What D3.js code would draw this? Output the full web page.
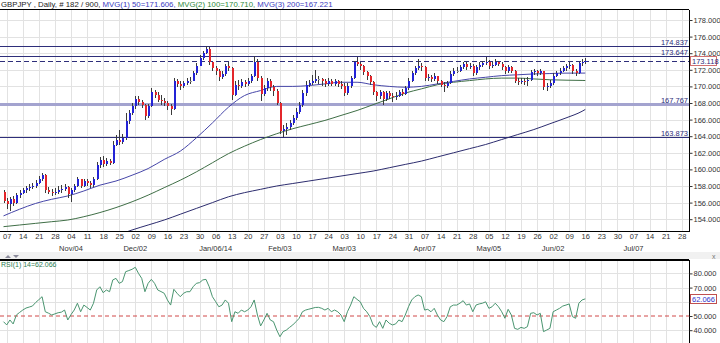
<!DOCTYPE html>
<html>
<head>
<meta charset="utf-8">
<script src="https://cdn.jsdelivr.net/npm/d3@7"></script>
<style>
  body { margin: 0; background: #fff; }
  svg { display: block; font-family: "Liberation Sans", Arial, sans-serif; }
</style>
</head>
<body>
<svg id="chart" width="720" height="343"></svg>
<script>
// ---- GBPJPY daily data (bar 0 = Oct 04 2013, bar 181 = Jun 16 2014) ----
const firstOpen = 157.3;
const closes = [
  156.2,155.8,156.4,156.0,156.9,157.2,157.5,157.7,157.9,158.0,
  158.4,158.8,159.3,157.5,157.3,157.1,157.3,157.5,157.6,157.9,
  157.0,157.5,158.0,158.8,158.0,158.6,158.4,158.1,158.8,160.5,
  161.1,160.6,161.0,160.8,163.0,163.6,163.3,163.8,165.8,166.8,
  167.6,168.5,168.1,167.7,166.4,167.6,169.3,169.0,168.4,168.2,
  168.0,167.6,167.3,170.6,170.3,170.0,170.4,170.7,170.7,171.6,
  172.5,173.4,174.0,174.5,172.9,172.2,171.9,171.1,171.5,172.4,
  172.2,169.0,170.2,170.0,170.5,170.3,170.6,171.2,172.9,171.0,
  169.1,169.8,170.6,169.9,169.5,168.0,164.6,164.9,165.1,165.6,
  166.2,166.9,167.7,169.2,170.2,170.4,170.7,170.9,170.9,170.6,
  170.3,170.7,170.3,170.6,170.3,170.0,169.2,170.1,171.0,172.9,
  172.7,172.4,171.7,171.2,170.5,169.3,168.8,169.3,168.5,169.2,
  168.9,168.7,168.9,169.3,169.1,169.8,170.7,171.6,172.2,172.5,
  172.3,171.0,171.1,170.9,171.2,170.6,170.2,170.0,170.4,171.5,
  171.9,171.9,172.3,172.7,172.3,172.5,171.6,172.3,172.6,172.8,
  173.0,172.4,172.6,173.0,172.7,172.3,171.8,172.3,171.9,170.7,
  170.6,170.7,170.6,170.8,171.7,171.8,171.6,171.8,169.9,170.1,
  170.4,171.3,171.6,171.9,172.2,172.4,172.6,171.8,171.6,172.8,
  173.0,173.118
];
const highs = [
  157.5,156.5,156.7,156.8,157.2,157.5,157.8,158.0,158.2,158.4,
  158.7,159.2,159.6,159.4,157.9,157.6,157.7,158.0,158.1,158.3,
  158.0,157.8,158.3,159.1,158.9,158.9,158.9,158.6,159.1,160.9,
  161.5,161.6,161.4,161.3,163.4,164.2,164.8,164.3,166.8,167.2,
  168.0,168.8,168.9,168.4,167.9,167.9,169.8,169.6,169.3,169.0,
  168.6,168.3,167.9,171.0,170.9,170.6,170.7,171.0,171.1,171.9,
  172.8,173.8,174.3,174.837,174.7,173.0,172.5,172.1,171.9,172.7,
  173.0,172.3,170.6,170.8,170.9,170.8,171.0,171.5,173.647,173.3,
  171.3,170.2,171.0,170.9,170.2,169.7,168.1,165.3,165.6,166.0,
  166.6,167.4,168.1,169.6,170.6,170.8,171.4,172.0,171.3,171.0,
  170.9,171.0,170.9,170.9,170.8,170.7,170.4,170.4,171.3,173.1,
  173.5,173.0,172.6,171.9,171.4,170.6,169.5,169.6,169.4,169.5,
  169.4,169.2,169.3,169.6,169.7,170.1,171.0,171.9,172.5,173.3,
  172.8,172.4,171.5,171.4,171.6,171.3,170.8,170.5,170.7,171.8,
  172.2,172.3,172.6,173.0,172.9,172.8,172.7,172.6,172.9,173.1,
  173.5,173.2,172.9,173.3,173.1,172.9,172.5,172.6,172.5,172.0,
  171.0,171.0,171.0,171.1,172.0,172.1,172.0,172.1,171.9,170.4,
  170.8,171.6,171.9,172.2,172.5,172.7,172.9,172.7,172.1,173.0,
  173.3,173.4
];
const lows = [
  155.9,155.2,155.0,155.6,155.8,156.6,157.0,157.2,157.4,157.6,
  157.8,158.2,158.6,157.2,157.0,156.8,156.9,157.0,157.1,157.4,
  156.6,156.1,157.3,157.9,157.7,157.9,158.0,157.8,157.9,158.7,
  160.2,160.3,160.4,160.5,160.7,162.8,163.0,163.1,163.6,165.5,
  166.5,167.3,167.8,167.4,166.0,166.2,167.5,168.6,168.1,167.8,
  167.6,167.2,166.6,167.2,169.9,169.6,169.8,170.2,170.3,170.6,
  171.4,172.4,173.2,173.9,172.6,171.9,171.4,170.7,170.9,171.3,
  171.9,168.4,168.8,169.6,169.8,169.9,170.0,170.4,171.1,170.7,
  168.3,168.9,169.5,169.5,168.9,167.8,164.3,163.873,164.2,164.8,
  165.3,165.9,166.7,167.5,168.9,169.9,170.2,170.4,170.3,170.1,
  169.9,170.0,170.0,170.1,169.9,169.7,168.9,169.0,169.8,170.9,
  172.4,172.0,171.4,170.8,170.2,169.0,168.2,168.5,167.767,168.3,
  168.5,168.1,168.4,168.7,168.8,169.0,169.6,170.5,171.4,172.0,
  171.9,170.7,170.6,170.5,170.7,170.3,169.9,169.3,169.8,170.3,
  171.3,171.6,171.7,172.1,172.0,172.1,171.3,171.4,172.0,172.3,
  172.6,172.1,172.2,172.4,172.4,172.0,171.5,171.6,171.6,170.4,
  170.2,170.3,170.2,170.0,170.6,171.4,171.3,171.4,169.6,169.4,
  169.8,170.2,171.1,171.4,171.7,171.9,172.1,171.5,171.2,171.5,
  172.5,172.7
];

// moving averages, sampled at these bars
const maBars = [0,5,10,15,20,25,30,35,40,45,50,55,60,65,70,75,80,85,90,95,100,105,110,115,120,125,130,135,140,145,150,155,160,165,170,175,180,181];
const ma50 = [154.4,155.2,155.9,156.4,156.8,157.4,158.1,158.6,159.3,160.1,161.2,162.2,163.8,165.6,167.5,168.9,169.5,170.0,170.0,170.1,170.3,170.5,170.5,170.2,170.0,169.9,170.0,170.3,170.6,170.9,171.1,171.3,171.4,171.5,171.55,171.6,171.6,171.606];
const ma100 = [153.1,153.3,153.5,153.7,153.9,154.3,154.8,155.4,156.1,156.9,157.8,158.7,159.7,160.8,161.9,162.8,163.6,164.3,164.9,165.4,165.9,166.5,167.1,167.8,168.5,169.2,169.7,170.2,170.5,170.7,170.9,171.0,171.0,170.9,170.8,170.75,170.72,170.71];
const ma200Bars = [35,40,45,50,55,60,65,70,75,80,85,90,95,100,105,110,115,120,125,130,135,140,145,150,155,160,165,170,175,180,181];
const ma200 = [152.0,152.7,153.3,153.9,154.6,155.3,156.0,156.7,157.2,157.6,158.0,158.3,158.6,158.9,159.2,159.5,159.8,160.2,160.6,161.0,161.5,162.0,162.5,163.0,163.6,164.2,164.8,165.5,166.2,167.0,167.221];

// RSI(14), one value per bar
const rsi = [
  46,43.7,47.2,44.4,50.7,52.5,54.2,55.6,56.3,57,
  59.5,61.5,63.6,53,52,50.7,51.5,52.3,52.7,54.2,
  47.2,51,54.2,59,53,57.7,56,54.2,59,68.3,
  70.6,66.4,68.3,67.1,75.4,76.5,73,74.2,81.2,82,
  82.9,84.3,80,76.5,67.1,73,75.8,73,68.3,67.2,
  66,61.3,57.7,68.8,66,63.6,66,67.1,67.1,70.6,
  73,73.5,75.4,75.8,70.6,63.6,60.1,56.5,57.7,61.3,
  59,46,53,51.9,54.2,53,54.2,56.5,61.3,50.7,
  43,47.2,51.9,47.2,46,40.1,35.4,39,40.1,42,
  43.7,46,48.4,53,54.2,54.8,55.4,56,56.1,55.4,
  54.2,55.4,53,54.2,53,50.7,46,53,57.7,63.6,
  61.7,60,55.4,53,49.6,43.7,42,46,41.3,47.2,
  44.9,43.7,44.4,47.2,46,50.7,56.5,61.3,63.6,64.8,
  63.6,54.2,54.7,53,55.4,50.7,47.2,46,49.6,56.5,
  57.7,57.7,59,60.8,57.7,58.5,53,57.7,58.5,59,
  60,55.4,56.5,59,56.5,53,48.4,54.7,50.7,41.3,
  40.6,42,41.3,42.5,51.9,52.3,50.7,51.9,39,40.1,
  41.3,53,54.2,55.4,57,57.7,58.5,49.6,48.4,59,
  61.3,62.066
];

// horizontal price levels
const levelValues = [174.837, 173.647, 167.767, 163.873];
const lastPrice = 173.118;
const lastRsi = 62.066;

// axis labels (the 60 level sits under the live RSI value box, so only its tick is drawn)
const priceTicks = [154,156,158,160,162,164,166,168,170,172,174,176,178];
const rsiTicks = [40,50,60,70,80];
const rsiTickLabels = [40,50,70,80];
const dayLabels = ["07","14","21","28","04","11","18","25","02","09","16","23","30","06","13","20","27","03","10","17","24","03","10","17","24","31","07","14","21","28","05","12","19","26","02","09","16","23","30","07","14","21","28"];
const monthLabels = ["Nov/04","Dec/02","Jan/06/14","Feb/03","Mar/03","Apr/07","May/05","Jun/02","Jul/07"];
const monthWeeks = [4,8,13,17,21,26,30,34,39];

// ---- layout ----
const svg = d3.select("#chart");
const W = 720, H = 343;
const plotL = 0, plotR = 689;
const mainTop = 9.5, mainBot = 231.5;
const rsiTop = 260, rsiBot = 343;

const x = d3.scaleLinear().domain([0, 211]).range([3.5, 681.7]);
const y = d3.scaleLinear().domain([154, 178]).range([219.2, 20]);
const yr = d3.scaleLinear().domain([40, 80]).range([330.2, 273.4]);

const weekBars = dayLabels.map((d, k) => 1 + 5 * k);
const gridCol = "#e2e2e2";
const navy = "#2e2e7a";

svg.append("rect").attr("width", W).attr("height", H).attr("fill", "#fff");

const defs = svg.append("defs");
defs.append("clipPath").attr("id", "clipMain").append("rect")
  .attr("x", plotL).attr("y", mainTop).attr("width", plotR - plotL).attr("height", mainBot - mainTop);
defs.append("clipPath").attr("id", "clipRsi").append("rect")
  .attr("x", plotL).attr("y", rsiTop).attr("width", plotR - plotL).attr("height", rsiBot - rsiTop);

// ---- grids ----
const grid = svg.append("g").attr("shape-rendering", "crispEdges");
weekBars.forEach(b => {
  const xx = Math.round(x(b)) + 0.5;
  grid.append("line").attr("x1", xx).attr("x2", xx).attr("y1", mainTop).attr("y2", mainBot).attr("stroke", gridCol);
  grid.append("line").attr("x1", xx).attr("x2", xx).attr("y1", rsiTop).attr("y2", rsiBot).attr("stroke", gridCol);
});
priceTicks.forEach(v => {
  const yy = Math.round(y(v)) + 0.5;
  grid.append("line").attr("x1", plotL).attr("x2", plotR).attr("y1", yy).attr("y2", yy).attr("stroke", gridCol);
});
rsiTicks.filter(v => v !== 50).forEach(v => {
  const yy = Math.round(yr(v)) + 0.5;
  grid.append("line").attr("x1", plotL).attr("x2", plotR).attr("y1", yy).attr("y2", yy).attr("stroke", gridCol);
});

// ---- main panel ----
const main = svg.append("g").attr("clip-path", "url(#clipMain)");

// price levels
const levelStyle = {
  174.837: { stroke: navy, width: 1 },
  173.647: { stroke: navy, width: 1 },
  167.767: { stroke: "#a3a3cf", width: 3 },
  163.873: { stroke: navy, width: 1 }
};
levelValues.forEach(v => {
  const s = levelStyle[v];
  const yy = s.width === 1 ? Math.round(y(v)) + 0.5 : y(v);
  main.append("line").attr("x1", plotL).attr("x2", plotR).attr("y1", yy).attr("y2", yy)
    .attr("stroke", s.stroke).attr("stroke-width", s.width).attr("shape-rendering", "crispEdges");
});
main.append("line").attr("x1", plotL).attr("x2", plotR)
  .attr("y1", Math.round(y(lastPrice)) + 0.5).attr("y2", Math.round(y(lastPrice)) + 0.5)
  .attr("stroke", navy).attr("stroke-dasharray", "5,3").attr("shape-rendering", "crispEdges");

// moving averages
const maLine = (bars) => d3.line().x((d, k) => x(bars[k])).y(d => y(d)).curve(d3.curveMonotoneX);
main.append("path").datum(ma200).attr("d", maLine(ma200Bars)).attr("fill", "none").attr("stroke", "#2c2c6e").attr("stroke-width", 1);
main.append("path").datum(ma100).attr("d", maLine(maBars)).attr("fill", "none").attr("stroke", "#3f6e46").attr("stroke-width", 1);
main.append("path").datum(ma50).attr("d", maLine(maBars)).attr("fill", "none").attr("stroke", "#4646a8").attr("stroke-width", 1);

// candles
const opens = closes.map((c, i) => i === 0 ? firstOpen : closes[i - 1]);
const candles = main.append("g").attr("shape-rendering", "crispEdges");
closes.forEach((c, i) => {
  const o = opens[i];
  const cx = Math.round(x(i));
  candles.append("line").attr("x1", cx + 0.5).attr("x2", cx + 0.5)
    .attr("y1", y(highs[i])).attr("y2", y(lows[i])).attr("stroke", "#3a3a3a");
  const top = y(Math.max(o, c)), bot = y(Math.min(o, c));
  const col = Math.abs(c - o) < 0.05 ? "#9a9a9a" : (c > o ? "#2323d6" : "#e3262b");
  candles.append("rect").attr("x", cx - 0.5).attr("width", 2)
    .attr("y", top).attr("height", Math.max(1, bot - top)).attr("fill", col);
});

// level labels
const labels = svg.append("g").attr("font-size", 7.5).attr("fill", navy).attr("text-anchor", "end");
levelValues.forEach(v => {
  labels.append("text").attr("x", 688).attr("y", y(v) - 1.5).text(d3.format(".3f")(v));
});

// frame
const frame = svg.append("g").attr("stroke", "#000").attr("shape-rendering", "crispEdges");
frame.append("line").attr("x1", 0).attr("x2", plotR).attr("y1", mainTop).attr("y2", mainTop);
frame.append("line").attr("x1", 0).attr("x2", plotR + 0.5).attr("y1", mainBot).attr("y2", mainBot);
frame.append("line").attr("x1", plotR + 0.5).attr("x2", plotR + 0.5).attr("y1", mainTop).attr("y2", mainBot);
frame.append("line").attr("x1", 0).attr("x2", plotR).attr("y1", rsiTop).attr("y2", rsiTop).attr("stroke-width", 1.5);
frame.append("line").attr("x1", plotR + 0.5).attr("x2", plotR + 0.5).attr("y1", rsiTop).attr("y2", rsiBot);

// price axis
const yAxis = svg.append("g").attr("transform", `translate(${plotR + 0.5},0)`)
  .call(d3.axisRight(y).tickValues(priceTicks).tickFormat(d3.format(".3f")).tickSize(3).tickPadding(1));
yAxis.select(".domain").remove();
yAxis.selectAll("text").attr("font-size", 7.5).attr("fill", "#333").attr("font-family", "Liberation Sans, Arial, sans-serif");
yAxis.selectAll("line").attr("stroke", "#333");

// last price box
const lpY = y(lastPrice);
svg.append("rect").attr("x", 690.5).attr("y", Math.round(lpY) - 4.5).attr("width", 26).attr("height", 9)
  .attr("fill", "#fff").attr("stroke", "#d07070");
svg.append("text").attr("x", 692).attr("y", Math.round(lpY) + 3).attr("font-size", 7.5).attr("fill", navy).text(d3.format(".3f")(lastPrice));

// date axis
const xAxis = svg.append("g").attr("transform", `translate(0,${mainBot})`)
  .call(d3.axisBottom(x).tickValues(weekBars).tickFormat((d, k) => dayLabels[k]).tickSize(0).tickPadding(2));
xAxis.select(".domain").remove();
xAxis.selectAll("text").attr("font-size", 7.5).attr("fill", "#333").attr("font-family", "Liberation Sans, Arial, sans-serif");

svg.append("g").selectAll("text").data(monthLabels).join("text")
  .attr("x", (d, k) => x(1 + 5 * monthWeeks[k]))
  .attr("y", 251).attr("text-anchor", "middle").attr("font-size", 7.5).attr("fill", "#333")
  .text(d => d);

// header
const head = svg.append("text").attr("x", 1).attr("y", 7).attr("font-size", 7.8);
head.append("tspan").attr("fill", "#222").text("GBPJPY , Daily, # 182 / 900, ");
head.append("tspan").attr("fill", "#3b3bc0").text(`MVG(1) 50=${d3.format(".3f")(ma50[ma50.length - 1])}, `);
head.append("tspan").attr("fill", "#2f8a3a").text(`MVG(2) 100=${d3.format(".3f")(ma100[ma100.length - 1])}, `);
head.append("tspan").attr("fill", "#3b3bc0").text(`MVG(3) 200=${d3.format(".3f")(ma200[ma200.length - 1])}`);

// ---- RSI panel ----
svg.append("rect").attr("x", 0).attr("y", 252).attr("width", W).attr("height", 7).attr("fill", "#f1f1f1");
svg.append("path").attr("d", "M5,258 L8,255 L11,258 Z").attr("fill", "#8a8a9a");
svg.append("path").attr("d", "M13,255 L19,255 L16,258 Z").attr("fill", "#8a8a9a");
svg.append("text").attr("x", 712).attr("y", 258.5).attr("font-size", 7).attr("fill", "#777").text("x");

const rsiG = svg.append("g").attr("clip-path", "url(#clipRsi)");
rsiG.append("line").attr("x1", plotL).attr("x2", plotR).attr("y1", yr(50)).attr("y2", yr(50))
  .attr("stroke", "#d04848").attr("stroke-dasharray", "4,3").attr("stroke-width", 1);
rsiG.append("path").datum(rsi)
  .attr("d", d3.line().x((d, i) => x(i)).y(d => yr(d)))
  .attr("fill", "none").attr("stroke", "#4a9570").attr("stroke-width", 1);

svg.append("text").attr("x", 1).attr("y", 266.5).attr("font-size", 7).attr("fill", "#2e7d52")
  .text(`RSI(1) 14=${d3.format(".3f")(lastRsi)}`);

const rAxis = svg.append("g").attr("transform", `translate(${plotR + 0.5},0)`)
  .call(d3.axisRight(yr).tickValues(rsiTicks)
    .tickFormat(v => rsiTickLabels.includes(v) ? d3.format(".3f")(v) : "")
    .tickSize(3).tickPadding(1));
rAxis.select(".domain").remove();
rAxis.selectAll("text").filter(function () { return this.textContent === ""; }).remove();
rAxis.selectAll("text").attr("font-size", 7.5).attr("fill", "#333").attr("font-family", "Liberation Sans, Arial, sans-serif");
rAxis.selectAll("line").attr("stroke", "#333");

const lrY = yr(lastRsi);
svg.append("rect").attr("x", 690.5).attr("y", Math.round(lrY) - 4.5).attr("width", 26).attr("height", 9)
  .attr("fill", "#fff").attr("stroke", "#c05050");
svg.append("text").attr("x", 692).attr("y", Math.round(lrY) + 3).attr("font-size", 7.5).attr("fill", "#3333cc").text(d3.format(".3f")(lastRsi));
</script>
</body>
</html>
